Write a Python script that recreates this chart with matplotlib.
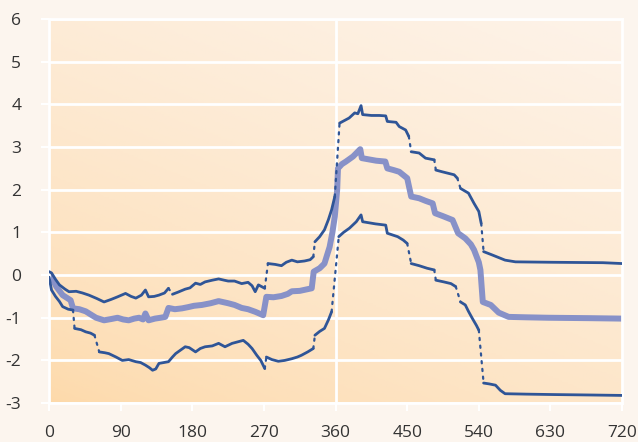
import matplotlib.pyplot as plt
import numpy as np
from matplotlib.colors import LinearSegmentedColormap

# each band is a list of unbroken pieces; gaps between pieces are drawn dotted
upper = [
    [(0, 0.08), (3, 0.05), (8, -0.1), (13, -0.23), (20, -0.33), (25, -0.39), (34, -0.38), (42, -0.42),
     (50, -0.47), (60, -0.55), (69, -0.63), (78, -0.57), (86, -0.51), (96, -0.43), (103, -0.5),
     (109, -0.54), (116, -0.47), (121, -0.35), (125, -0.51), (132, -0.5), (138, -0.47), (145, -0.42),
     (150, -0.31)],
    [(155, -0.45), (162, -0.4), (171, -0.33), (177, -0.3), (184, -0.19), (190, -0.22), (196, -0.16),
     (205, -0.12), (213, -0.09), (220, -0.12), (225, -0.14), (233, -0.14), (242, -0.2), (250, -0.17),
     (255, -0.25), (259, -0.39), (263, -0.23), (268, -0.28), (271, -0.31)],
    [(275, 0.27), (284, 0.25), (292, 0.22), (298, 0.3), (305, 0.35), (312, 0.31), (321, 0.33),
     (328, 0.36), (332, 0.43)],
    [(334, 0.78), (340, 0.9), (346, 1.06), (351, 1.3), (355, 1.53), (359, 1.84)],
    [(365, 3.56), (371, 3.62), (377, 3.68), (384, 3.8), (388, 3.78), (392, 3.97), (394, 3.76),
     (405, 3.74), (415, 3.74), (423, 3.73), (425, 3.6), (436, 3.58), (440, 3.48), (448, 3.4),
     (452, 3.25)],
    [(455, 2.89), (465, 2.86), (473, 2.74), (484, 2.7)],
    [(486, 2.46), (494, 2.42), (509, 2.35), (513, 2.27)],
    [(517, 2.03), (527, 1.92), (534, 1.68), (540, 1.49), (543, 1.21)],
    [(546, 0.55), (557, 0.47), (565, 0.41), (573, 0.35), (586, 0.31), (632, 0.3), (696, 0.29),
     (720, 0.27)],
]

central = [
    (0, 0.03), (5, -0.12), (9, -0.27), (17, -0.47), (27, -0.59), (30, -0.78), (38, -0.8), (46, -0.85),
    (52, -0.92), (59, -1.0), (69, -1.06), (78, -1.03), (86, -1.0), (93, -1.04), (100, -1.06),
    (107, -1.02), (113, -1.0), (118, -1.04), (121, -0.9), (125, -1.06), (133, -1.02), (140, -1.0),
    (146, -0.98), (150, -0.77), (158, -0.8), (167, -0.78), (175, -0.75), (182, -0.72), (192, -0.7),
    (203, -0.66), (213, -0.61), (225, -0.66), (233, -0.7), (242, -0.77), (250, -0.8), (259, -0.86),
    (264, -0.9), (269, -0.94), (273, -0.51), (282, -0.52), (292, -0.49), (300, -0.44), (305, -0.38),
    (315, -0.37), (325, -0.33), (330, -0.31), (332.5, 0.08), (340, 0.16), (346, 0.27), (352.5, 0.66),
    (356, 1.0), (359, 1.37), (362, 2.0), (363, 2.5), (368, 2.6), (373, 2.66), (382, 2.78), (391, 2.95),
    (393, 2.74), (411, 2.68), (422.5, 2.66), (425, 2.5), (433, 2.46), (440, 2.42), (450, 2.27),
    (455, 1.84), (465, 1.8), (473, 1.74), (482, 1.68), (485, 1.45), (495, 1.38), (507, 1.29),
    (514, 0.98), (523, 0.86), (530, 0.72), (534, 0.59), (540, 0.3), (542, 0.12), (545, -0.63),
    (555, -0.7), (565, -0.88), (577.5, -0.98), (600, -0.99), (627, -1.0), (680, -1.01), (720, -1.02),
]

lower = [
    [(0, -0.05), (3, -0.35), (8, -0.5), (13, -0.62), (17, -0.74), (24, -0.8), (30, -0.82)],
    [(32, -1.25), (40, -1.28), (46, -1.33), (52, -1.36), (57, -1.41)],
    [(63, -1.8), (70, -1.82), (75, -1.84), (84, -1.92), (92, -2.0), (100, -1.98), (109, -2.03),
     (115, -2.05), (121, -2.11), (126, -2.17), (130, -2.23), (134, -2.2), (138, -2.07), (144, -2.05),
     (150, -2.03), (155, -1.92), (159, -1.84), (165, -1.76), (171, -1.68), (176, -1.7), (184, -1.8),
     (190, -1.72), (196, -1.68), (205, -1.66), (213, -1.6), (221, -1.68), (230, -1.6), (238, -1.56),
     (244, -1.53), (250, -1.62), (255, -1.72), (261, -1.88), (266, -2.0), (271, -2.19)],
    [(273, -1.92), (280, -1.98), (288, -2.02), (296, -2.0), (305, -1.96), (312, -1.92), (317, -1.88),
     (325, -1.8), (332, -1.72)],
    [(334, -1.41), (340, -1.32), (346, -1.25), (351, -1.05), (355, -0.86)],
    [(364, 0.9), (370, 1.0), (377.5, 1.1), (386, 1.25), (392, 1.41), (394, 1.25), (410, 1.2),
     (423, 1.17), (425, 0.98), (438, 0.9), (445, 0.82), (450, 0.74)],
    [(455, 0.27), (465, 0.22), (475, 0.16), (484, 0.12)],
    [(486, -0.12), (496, -0.16), (505, -0.2), (511, -0.27)],
    [(517, -0.63), (523, -0.7), (527, -0.85), (532, -1.02), (537, -1.18), (540, -1.29)],
    [(546, -2.53), (553, -2.55), (561, -2.58), (567, -2.7), (573, -2.78), (600, -2.79), (635, -2.8),
     (680, -2.81), (720, -2.82)],
]

xticks = [0, 90, 180, 270, 360, 450, 540, 630, 720]
yticks = list(range(-3, 7))

dark = '#2f5597'
light = '#8791c8'
bg = '#fcf5ee'

plt.rcParams['font.family'] = ['Open Sans', 'DejaVu Sans']
plt.rcParams['axes.unicode_minus'] = False

fig = plt.figure(figsize=(6.38, 4.42), dpi=100, facecolor=bg)
ax = fig.add_axes([0.077, 0.088, 0.898, 0.869])

# diagonal peach-to-cream background
gx, gy = np.meshgrid(np.linspace(0, 1, 200), np.linspace(0, 1, 200))
t = np.clip((0.6 * gx + gy) / 1.6, 0, 1) ** 0.7
cmap = LinearSegmentedColormap.from_list('bgfade', ['#fdd9a9', '#fdf3e9'])
ax.imshow(t, cmap=cmap, extent=[0, 720, -3, 6], origin='lower', aspect='auto', zorder=0)

for y in yticks:
    ax.axhline(y, color='white', lw=2, zorder=1)
ax.axvline(360, color='white', lw=2, zorder=1)


def draw_band(pieces):
    for i, piece in enumerate(pieces):
        xs, ys = zip(*piece)
        ax.plot(xs, ys, color=dark, lw=2, solid_capstyle='round', zorder=3)
        if i > 0:
            px, py = pieces[i - 1][-1]
            ax.plot([px, xs[0]], [py, ys[0]], color=dark, lw=1.6, ls=(0, (1, 2.5)),
                    dash_capstyle='round', zorder=3)


draw_band(upper)
draw_band(lower)
cx, cy = zip(*central)
ax.plot(cx, cy, color=light, lw=4.3, solid_capstyle='round', solid_joinstyle='round', zorder=2)

ax.set_xlim(0, 720)
ax.set_ylim(-3, 6)
ax.set_xticks(xticks)
ax.set_yticks(yticks)
for s in ax.spines.values():
    s.set_color('white')
    s.set_linewidth(2)
ax.tick_params(colors='white', length=6, width=1.5, labelcolor='#333333', labelsize=12.5)
ax.tick_params(axis='x', pad=10)
ax.tick_params(axis='y', pad=14)

plt.savefig('out.png', dpi=100, facecolor=bg)
